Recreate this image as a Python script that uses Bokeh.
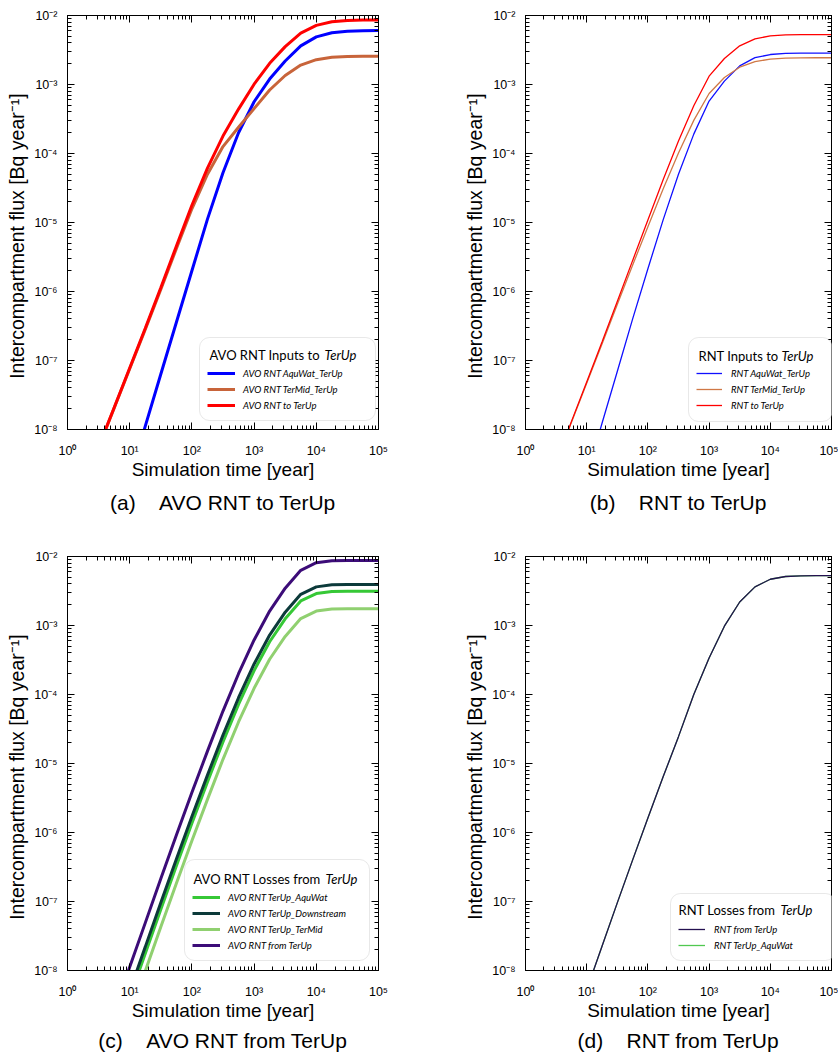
from bokeh.plotting import figure
from bokeh.models import (FixedTicker, LogAxis, CustomJSTickFormatter, Legend, LegendItem,
                          BoxAnnotation, Label, Title, Range1d)
from bokeh.layouts import row, column
from bokeh.embed import file_html
from bokeh.resources import INLINE

# ---------------- data ----------------
time_years = [3.16, 5.62, 10, 17.8, 31.6, 56.2, 100, 178, 316, 562, 1000, 1778,
              3162, 5623, 10000, 17783, 31623, 56234, 100000]

# (a) AVO RNT inputs to TerUp
a_aquwat_terup = [5.0e-11, 3.16e-10, 1.91e-9, 1.12e-8, 6.31e-8, 3.55e-7, 2.00e-6, 1.12e-5, 5.25e-5,
                  2.00e-4, 5.62e-4, 1.20e-3, 2.19e-3, 3.63e-3, 4.90e-3, 5.62e-3, 5.92e-3, 6.03e-3, 6.07e-3]
a_termid_terup = [5.50e-9, 2.04e-8, 7.59e-8, 2.82e-7, 1.07e-6, 4.17e-6, 1.58e-5, 5.01e-5, 1.26e-4,
                  2.40e-4, 4.47e-4, 8.32e-4, 1.35e-3, 1.91e-3, 2.29e-3, 2.48e-3, 2.55e-3, 2.57e-3, 2.57e-3]
a_to_terup = [5.55e-9, 2.07e-8, 7.78e-8, 2.93e-7, 1.13e-6, 4.53e-6, 1.78e-5, 6.13e-5, 1.79e-4,
              4.40e-4, 1.01e-3, 2.03e-3, 3.54e-3, 5.54e-3, 7.19e-3, 8.10e-3, 8.47e-3, 8.60e-3, 8.64e-3]

# (b) RNT inputs to TerUp
b_aquwat_terup = [6.3e-11, 3.8e-10, 2.09e-9, 1.23e-8, 6.92e-8, 3.98e-7, 2.14e-6, 1.10e-5, 5.01e-5,
                  1.91e-4, 5.75e-4, 1.12e-3, 1.86e-3, 2.45e-3, 2.72e-3, 2.82e-3, 2.84e-3, 2.84e-3, 2.84e-3]
b_termid_terup = [3.31e-9, 1.26e-8, 4.68e-8, 1.74e-7, 6.46e-7, 2.40e-6, 8.71e-6, 3.09e-5, 1.02e-4,
                  3.02e-4, 7.41e-4, 1.26e-3, 1.78e-3, 2.14e-3, 2.34e-3, 2.41e-3, 2.43e-3, 2.44e-3, 2.44e-3]
b_to_terup = [3.37e-9, 1.30e-8, 4.89e-8, 1.86e-7, 7.15e-7, 2.80e-6, 1.085e-5, 4.19e-5, 1.52e-4,
              4.93e-4, 1.32e-3, 2.38e-3, 3.64e-3, 4.59e-3, 5.06e-3, 5.23e-3, 5.27e-3, 5.28e-3, 5.28e-3]

# (c) AVO RNT losses from TerUp
c_terup_aquwat = [2.26e-10, 9.44e-10, 4.02e-9, 1.76e-8, 7.68e-8, 3.27e-7, 1.36e-6, 5.42e-6, 2.06e-5,
                  7.18e-5, 2.22e-4, 5.82e-4, 1.25e-3, 2.27e-3, 2.90e-3, 3.11e-3, 3.13e-3, 3.14e-3, 3.14e-3]
c_terup_downstream = [2.83e-10, 1.18e-9, 5.03e-9, 2.20e-8, 9.61e-8, 4.09e-7, 1.71e-6, 6.78e-6, 2.58e-5,
                      8.98e-5, 2.77e-4, 7.27e-4, 1.56e-3, 2.83e-3, 3.63e-3, 3.89e-3, 3.92e-3, 3.93e-3, 3.93e-3]
c_terup_termid = [1.26e-10, 5.26e-10, 2.24e-9, 9.8e-9, 4.28e-8, 1.82e-7, 7.6e-7, 3.02e-6, 1.15e-5,
                  4.0e-5, 1.23e-4, 3.24e-4, 6.94e-4, 1.26e-3, 1.62e-3, 1.73e-3, 1.75e-3, 1.75e-3, 1.75e-3]
c_from_terup = [6.3e-10, 2.63e-9, 1.12e-8, 4.90e-8, 2.14e-7, 9.12e-7, 3.80e-6, 1.51e-5, 5.75e-5,
                2.00e-4, 6.17e-4, 1.62e-3, 3.47e-3, 6.31e-3, 8.13e-3, 8.67e-3, 8.74e-3, 8.75e-3, 8.75e-3]

# (d) RNT losses from TerUp
d_from_terup = [2.82e-10, 1.20e-9, 5.25e-9, 2.24e-8, 9.55e-8, 3.98e-7, 1.62e-6, 6.46e-6, 2.45e-5,
                1.00e-4, 3.39e-4, 9.77e-4, 2.19e-3, 3.63e-3, 4.68e-3, 5.13e-3, 5.25e-3, 5.27e-3, 5.28e-3]
d_terup_aquwat = [2.82e-10, 1.20e-9, 5.25e-9, 2.24e-8, 9.55e-8, 3.98e-7, 1.62e-6, 6.46e-6, 2.45e-5,
                  1.00e-4, 3.39e-4, 9.77e-4, 2.19e-3, 3.63e-3, 4.68e-3, 5.13e-3, 5.25e-3, 5.27e-3, 5.28e-3]

x_major_ticks = [1, 10, 100, 1e3, 1e4, 1e5]
y_major_ticks = [1e-8, 1e-7, 1e-6, 1e-5, 1e-4, 1e-3, 1e-2]
x_label = "Simulation time [year]"
y_label = "Intercompartment flux [Bq year\u207b\u00b9]" + "\u00a0" * 5

# ---------------- styling helpers ----------------
X_MINOR = [k * 10.0 ** n for n in range(0, 5) for k in range(2, 10)]
Y_MINOR = [k * 10.0 ** n for n in range(-8, -2) for k in range(2, 10)]

SUP_CODE = """
const e = Math.round(Math.log10(tick));
const m = {'0':'\u2070','1':'\u00b9','2':'\u00b2','3':'\u00b3','4':'\u2074','5':'\u2075',
           '6':'\u2076','7':'\u2077','8':'\u2078','9':'\u2079','-':'\u207b'};
return '10' + String(e).split('').map(c => m[c]).join('');
"""
EMPTY_CODE = "return ' ';"

FONT = "Liberation Sans"
LFONT = "Lato"


def style_axis(ax, ticks, minor, show_labels):
    ax.ticker = FixedTicker(ticks=ticks, minor_ticks=minor)
    ax.axis_line_color = "black"
    ax.axis_line_width = 1
    ax.major_tick_in = 7
    ax.major_tick_out = 0
    ax.minor_tick_in = 4
    ax.minor_tick_out = 0
    ax.major_tick_line_color = "black"
    ax.minor_tick_line_color = "black"
    if show_labels:
        ax.formatter = CustomJSTickFormatter(code=SUP_CODE)
        ax.major_label_text_font = FONT
        ax.major_label_text_font_size = "12.5px"
        ax.major_label_text_color = "black"
    else:
        ax.formatter = CustomJSTickFormatter(code=EMPTY_CODE)
        ax.major_label_text_font_size = "1px"
        ax.major_label_text_alpha = 0
        ax.major_label_standoff = 0


def make_panel(width, height, b_left, b_right, b_top, b_bottom, caption, cap_standoff):
    p = figure(width=width, height=height, x_axis_type="log", y_axis_type="log",
               x_range=Range1d(1, 1e5), y_range=Range1d(1e-8, 1e-2),
               output_backend="svg", toolbar_location=None,
               min_border_left=b_left, min_border_right=b_right,
               min_border_top=b_top, min_border_bottom=b_bottom)
    p.xgrid.visible = False
    p.ygrid.visible = False
    p.outline_line_color = "black"
    p.background_fill_color = "white"
    p.border_fill_color = "white"

    xa = p.xaxis[0]
    ya = p.yaxis[0]
    style_axis(xa, x_major_ticks, X_MINOR, True)
    style_axis(ya, y_major_ticks, Y_MINOR, True)
    xa.major_label_standoff = 14
    ya.major_label_standoff = 10
    xa.axis_label = x_label
    ya.axis_label = y_label
    for ax in (xa, ya):
        ax.axis_label_text_font = FONT
        ax.axis_label_text_font_style = "normal"
        ax.axis_label_text_color = "black"
    xa.axis_label_text_font_size = "19px"
    ya.axis_label_text_font_size = "19.5px"
    xa.axis_label_standoff = -2
    ya.axis_label_standoff = 3

    top = LogAxis()
    style_axis(top, x_major_ticks, X_MINOR, False)
    p.add_layout(top, "above")
    right = LogAxis()
    style_axis(right, y_major_ticks, Y_MINOR, False)
    p.add_layout(right, "right")

    p.add_layout(Title(text=caption, align="center", text_font=FONT, text_font_size="21px",
                       text_font_style="normal", text_color="black", standoff=cap_standoff), "below")
    return p


def add_legend(p, box, title_parts, loc, glyph_w, standoff, items):
    l, r, t, b = box
    p.add_layout(BoxAnnotation(left=l, right=r, top=t, bottom=b,
                               left_units="screen", right_units="screen",
                               top_units="screen", bottom_units="screen",
                               fill_color="white", fill_alpha=1.0,
                               line_color="#b4b4b4", line_width=1, border_radius=10))
    leg = Legend(items=[LegendItem(label=lbl, renderers=[rr]) for lbl, rr in items],
                 location=loc, orientation="vertical", padding=0, margin=0, spacing=0,
                 glyph_width=glyph_w, glyph_height=16, label_height=16, label_standoff=standoff,
                 label_text_font=LFONT, label_text_font_size="9.5px", label_text_font_style="italic",
                 label_text_color="black", border_line_alpha=0, background_fill_alpha=0)
    p.add_layout(leg)
    (txt, tx), (itxt, itx), ty = title_parts
    p.add_layout(Label(x=tx, y=ty, x_units="screen", y_units="screen", text=txt,
                       text_font=LFONT, text_font_size="13px", text_font_style="normal",
                       text_baseline="middle", text_align="left", text_color="black"))
    p.add_layout(Label(x=itx, y=ty, x_units="screen", y_units="screen", text=itxt,
                       text_font=LFONT, text_font_size="13px", text_font_style="italic",
                       text_baseline="middle", text_align="left", text_color="black"))


NB = "\u00a0\u00a0\u00a0\u00a0"

# ---- (a)
pa = make_panel(461, 549, 67, 83, 15, 120, "(a)" + NB + "AVO RNT to TerUp", 12)
ra1 = pa.line(time_years, a_aquwat_terup, line_color="#0000ff", line_width=3)
ra2 = pa.line(time_years, a_termid_terup, line_color="#c8643a", line_width=3)
ra3 = pa.line(time_years, a_to_terup, line_color="#ff0000", line_width=3)
add_legend(pa, (132, 308, 92, 9), (("AVO RNT Inputs to", 142), ("TerUp", 257), 75), (140, 16), 28, 8,
           [("AVO RNT AquWat_TerUp", ra1), ("AVO RNT TerMid_TerUp", ra2), ("AVO RNT to TerUp", ra3)])

# ---- (b)
pb = make_panel(377, 549, 59, 7, 15, 120, "(b)" + NB + "RNT to TerUp", 12)
rb1 = pb.line(time_years, b_aquwat_terup, line_color="#1010ff", line_width=1.3)
rb2 = pb.line(time_years, b_termid_terup, line_color="#d07846", line_width=1.3)
rb3 = pb.line(time_years, b_to_terup, line_color="#ff0000", line_width=1.3)
add_legend(pb, (163, 307, 92, 8), (("RNT Inputs to", 173), ("TerUp", 256), 74), (171, 16), 26, 9,
           [("RNT AquWat_TerUp", rb1), ("RNT TerMid_TerUp", rb2), ("RNT to TerUp", rb3)])

# ---- (c)
pc = make_panel(461, 506, 67, 83, 7, 85, "(c)" + NB + "AVO RNT from TerUp", 6)
rc1 = pc.line(time_years, c_terup_aquwat, line_color="#36c836", line_width=3)
rc2 = pc.line(time_years, c_terup_downstream, line_color="#0c3a3a", line_width=3)
rc3 = pc.line(time_years, c_terup_termid, line_color="#90d070", line_width=3)
rc4 = pc.line(time_years, c_from_terup, line_color="#3c0c78", line_width=3)
add_legend(pc, (117, 302, 111, 10), (("AVO RNT Losses from", 126), ("TerUp", 258), 92), (125, 17), 28, 8,
           [("AVO RNT TerUp_AquWat", rc1), ("AVO RNT TerUp_Downstream", rc2),
            ("AVO RNT TerUp_TerMid", rc3), ("AVO RNT from TerUp", rc4)])

# ---- (d)
pd_ = make_panel(377, 506, 59, 7, 7, 85, "(d)" + NB + "RNT from TerUp", 6)
rd2 = pd_.line(time_years, d_terup_aquwat, line_color="#50c850", line_width=1.3)
rd1 = pd_.line(time_years, d_from_terup, line_color="#241050", line_width=1.3)
add_legend(pd_, (145, 310, 77, 10), (("RNT Losses from", 153), ("TerUp", 255), 61), (153, 17), 27, 9,
           [("RNT from TerUp", rd1), ("RNT TerUp_AquWat", rd2)])

layout = column(row(pa, pb), row(pc, pd_))

open("out.html", "w").write(file_html(layout, INLINE))
